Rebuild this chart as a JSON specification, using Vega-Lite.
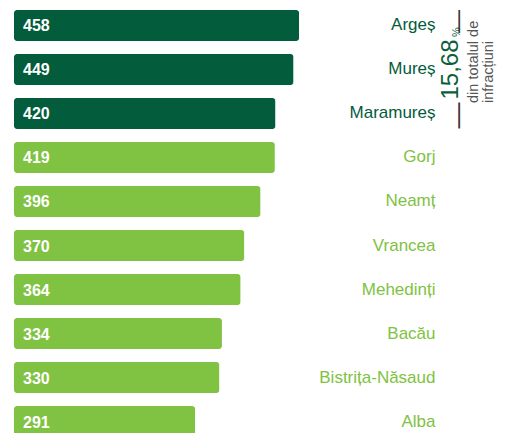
{
  "$schema": "https://vega.github.io/schema/vega-lite/v6.json",
  "width": 485,
  "height": 427,
  "autosize": {"type": "none"},
  "padding": {"left": 14, "top": 10, "right": 6, "bottom": 0},
  "background": "white",
  "config": {"view": {"stroke": null}, "font": "Liberation Sans"},
  "data": {
    "values": [
      {"judet": "Argeș", "n": 458, "grp": "top"},
      {"judet": "Mureș", "n": 449, "grp": "top"},
      {"judet": "Maramureș", "n": 420, "grp": "top"},
      {"judet": "Gorj", "n": 419, "grp": "rest"},
      {"judet": "Neamț", "n": 396, "grp": "rest"},
      {"judet": "Vrancea", "n": 370, "grp": "rest"},
      {"judet": "Mehedinți", "n": 364, "grp": "rest"},
      {"judet": "Bacău", "n": 334, "grp": "rest"},
      {"judet": "Bistrița-Năsaud", "n": 330, "grp": "rest"},
      {"judet": "Alba", "n": 291, "grp": "rest"}
    ]
  },
  "encoding": {
    "y": {"field": "judet", "type": "nominal", "sort": null, "axis": null,
          "scale": {"paddingInner": 0.2955, "paddingOuter": 0}}
  },
  "layer": [
    {
      "mark": {"type": "bar", "cornerRadius": 3},
      "encoding": {
        "x": {"field": "n", "type": "quantitative", "axis": null, "scale": {"domain": [0, 779], "nice": false}},
        "color": {"field": "grp", "type": "nominal", "legend": null,
                  "scale": {"domain": ["top", "rest"], "range": ["#035c3b", "#80c242"]}}
      }
    },
    {
      "mark": {"type": "text", "align": "left", "baseline": "middle", "dx": 9, "dy": 1, "fontSize": 16, "fontWeight": "bold", "color": "white"},
      "encoding": {
        "x": {"datum": 0, "type": "quantitative"},
        "text": {"field": "n", "type": "quantitative"}
      }
    },
    {
      "mark": {"type": "text", "align": "right", "baseline": "middle", "fontSize": 17},
      "encoding": {
        "x": {"datum": 677, "type": "quantitative"},
        "text": {"field": "judet"},
        "color": {"field": "grp", "type": "nominal", "legend": null}
      }
    },
    {
      "data": {"values": [{"t": "15,68", "j": "Mureș"}]},
      "mark": {"type": "text", "angle": 270, "align": "center", "baseline": "alphabetic", "fontSize": 24, "color": "#0b5e3b"},
      "encoding": {
        "x": {"datum": 713.3, "type": "quantitative"},
        "y": {"field": "j", "type": "nominal", "sort": null},
        "text": {"field": "t"}
      }
    },
    {
      "data": {"values": [{"t": "%", "j": "Mureș"}]},
      "mark": {"type": "text", "angle": 270, "align": "left", "baseline": "alphabetic", "fontSize": 11, "color": "#0b5e3b", "dx": 32.5, "dy": 1.5},
      "encoding": {
        "x": {"datum": 713.3, "type": "quantitative"},
        "y": {"field": "j", "type": "nominal", "sort": null},
        "text": {"field": "t"}
      }
    },
    {
      "data": {"values": [{"t": "—", "j": "Mureș"}]},
      "mark": {"type": "text", "angle": 270, "align": "center", "baseline": "alphabetic", "fontSize": 26, "color": "#333333", "dx": -46, "dy": 7.5},
      "encoding": {
        "x": {"datum": 713.3, "type": "quantitative"},
        "y": {"field": "j", "type": "nominal", "sort": null},
        "text": {"field": "t"}
      }
    },
    {
      "data": {"values": [{"t": "—", "j": "Mureș"}]},
      "mark": {"type": "text", "angle": 270, "align": "center", "baseline": "alphabetic", "fontSize": 23, "color": "#333333", "dx": 48, "dy": 7},
      "encoding": {
        "x": {"datum": 713.3, "type": "quantitative"},
        "y": {"field": "j", "type": "nominal", "sort": null},
        "text": {"field": "t"}
      }
    },
    {
      "data": {"values": [{"j": "Mureș"}]},
      "mark": {"type": "text", "angle": 270, "align": "left", "baseline": "alphabetic", "fontSize": 14.5, "lineHeight": 15, "color": "#555555", "dx": -33.5, "dy": 20,
               "text": ["din totalul de", "infracțiuni"]},
      "encoding": {
        "x": {"datum": 713.3, "type": "quantitative"},
        "y": {"field": "j", "type": "nominal", "sort": null}
      }
    }
  ]
}
